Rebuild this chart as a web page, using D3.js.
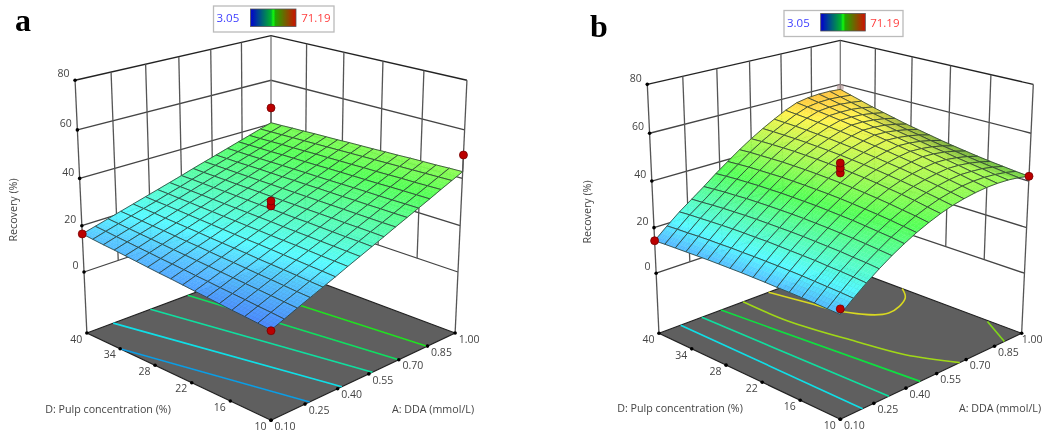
<!DOCTYPE html>
<html>
<head>
<meta charset="utf-8">
<script src="https://cdn.jsdelivr.net/npm/d3@7"></script>
<style>
body { margin: 0; background: #fff; }
text { font-family: "Open Sans", sans-serif; }
</style>
</head>
<body>
<div id="chart"></div>
<script>
const ddaTicks = [0.10, 0.25, 0.40, 0.55, 0.70, 0.85, 1.00];
const pulpTicks = [10, 16, 22, 28, 34, 40];
const recoveryTicks = [0, 20, 40, 60, 80];
const legendMin = "3.05";
const legendMax = "71.19";

// rows go D = 10 -> 40, columns go A = 0.10 -> 1.00
const surfaceA = [
[8.8,10.9,13.1,15.2,17.3,19.4,21.6,23.7,25.8,27.9,30.1,32.2,34.3,36.4,38.6,40.7,42.8],
[9.3,11.4,13.5,15.5,17.6,19.7,21.8,23.9,26.0,28.1,30.1,32.2,34.3,36.4,38.5,40.6,42.7],
[9.8,11.8,13.9,15.9,18.0,20.0,22.0,24.1,26.1,28.2,30.2,32.3,34.3,36.4,38.4,40.5,42.5],
[10.2,12.3,14.3,16.3,18.3,20.3,22.3,24.3,26.3,28.3,30.3,32.3,34.3,36.4,38.4,40.4,42.4],
[10.7,12.7,14.7,16.6,18.6,20.6,22.6,24.5,26.5,28.5,30.4,32.4,34.4,36.3,38.3,40.3,42.3],
[11.2,13.1,15.1,17.0,18.9,20.9,22.8,24.7,26.7,28.6,30.5,32.4,34.4,36.3,38.2,40.2,42.1],
[11.7,13.6,15.5,17.4,19.3,21.2,23.0,24.9,26.8,28.7,30.6,32.5,34.4,36.3,38.2,40.1,42.0],
[12.2,14.0,15.9,17.7,19.6,21.4,23.3,25.2,27.0,28.9,30.7,32.6,34.4,36.3,38.1,40.0,41.8],
[12.7,14.5,16.3,18.1,19.9,21.7,23.5,25.4,27.2,29.0,30.8,32.6,34.4,36.3,38.1,39.9,41.7],
[13.1,14.9,16.7,18.5,20.2,22.0,23.8,25.6,27.3,29.1,30.9,32.7,34.5,36.2,38.0,39.8,41.6],
[13.6,15.3,17.1,18.8,20.6,22.3,24.0,25.8,27.5,29.3,31.0,32.7,34.5,36.2,38.0,39.7,41.4],
[14.1,15.8,17.5,19.2,20.9,22.6,24.3,26.0,27.7,29.4,31.1,32.8,34.5,36.2,37.9,39.6,41.3],
[14.6,16.2,17.9,19.6,21.2,22.9,24.5,26.2,27.9,29.5,31.2,32.9,34.5,36.2,37.8,39.5,41.2],
[15.1,16.7,18.3,19.9,21.5,23.2,24.8,26.4,28.0,29.7,31.3,32.9,34.5,36.1,37.8,39.4,41.0],
[15.5,17.1,18.7,20.3,21.9,23.5,25.0,26.6,28.2,29.8,31.4,32.9,34.5,36.1,37.7,39.3,40.9],
[16.0,17.6,19.1,20.7,22.2,23.7,25.3,26.8,28.4,29.9,31.5,33.0,34.6,36.1,37.6,39.2,40.7],
[16.5,18.0,19.5,21.0,22.5,24.0,25.5,27.0,28.5,30.1,31.6,33.1,34.6,36.1,37.6,39.1,40.6]
];
const surfaceB = [
[15.0,19.3,23.3,26.9,30.2,33.1,35.7,37.9,39.8,41.3,42.4,43.2,43.7,43.8,43.6,43.0,42.0],
[15.2,19.6,23.7,27.4,30.7,33.8,36.4,38.8,40.7,42.3,43.4,44.3,44.7,44.7,44.3,43.6,42.5],
[15.4,19.8,24.0,27.7,31.2,34.3,37.1,39.5,41.7,43.2,44.4,45.3,45.8,45.6,45.2,44.3,43.1],
[15.5,20.0,24.2,28.1,31.6,34.8,37.7,40.3,42.5,44.1,45.3,46.2,46.8,46.6,46.0,45.0,43.7],
[15.6,20.2,24.5,28.3,31.9,35.3,38.2,40.9,43.2,44.9,46.2,47.1,47.7,47.5,46.8,45.8,44.4],
[15.6,20.3,24.6,28.5,32.2,35.6,38.7,41.5,43.9,45.6,47.0,48.0,48.7,48.4,47.7,46.6,45.2],
[15.7,20.4,24.7,28.7,32.4,35.9,39.1,42.0,44.5,46.3,47.7,48.8,49.5,49.2,48.5,47.4,46.0],
[15.7,20.4,24.8,28.8,32.6,36.2,39.4,42.4,45.0,46.9,48.4,49.6,50.4,50.1,49.4,48.3,46.9],
[15.7,20.4,24.9,28.8,32.7,36.3,39.6,42.7,45.5,47.4,49.0,50.3,51.3,51.0,50.3,49.3,47.9],
[15.6,20.3,24.8,28.8,32.7,36.4,39.8,43.0,45.8,47.9,49.6,51.0,52.1,51.9,51.2,50.2,48.9],
[15.5,20.3,24.8,28.8,32.7,36.5,39.9,43.2,46.1,48.3,50.1,51.7,52.8,52.7,52.2,51.2,49.9],
[15.4,20.1,24.7,28.7,32.6,36.4,40.0,43.3,46.3,48.6,50.6,52.3,53.6,53.6,53.1,52.3,51.1],
[15.2,20.0,24.5,28.5,32.5,36.4,39.9,43.4,46.5,48.9,51.0,52.9,54.3,54.4,54.1,53.3,52.3],
[15.0,19.8,24.3,28.3,32.2,36.2,39.8,43.3,46.5,49.1,51.4,53.4,55.0,55.2,55.1,54.5,53.5],
[14.8,19.5,24.0,28.0,32.0,36.0,39.7,43.2,46.5,49.2,51.7,53.9,55.6,56.1,56.1,55.6,54.9],
[14.6,19.3,23.8,27.6,31.6,35.7,39.4,43.1,46.4,49.3,51.9,54.3,56.2,56.9,57.1,56.8,56.3],
[14.3,19.0,23.4,27.3,31.2,35.3,39.1,42.8,46.2,49.3,52.1,54.7,56.8,57.7,58.1,58.1,57.7]
];

// floor contours as [A, D] points
const contoursA = [
  { color: "#0a9de4", pts: [[0.10, 34], [0.271, 10]] },
  { color: "#10e0e8", pts: [[0.217, 40], [0.42, 10]] },
  { color: "#10e0a0", pts: [[0.388, 40], [0.568, 10]] },
  { color: "#10e060", pts: [[0.568, 40], [0.70, 10]] },
  { color: "#20e020", pts: [[0.757, 40], [0.847, 10]] }
];
const contoursB = [
  { color: "#10e0e8", pts: [[0.198, 40], [0.199, 10]] },
  { color: "#10e0a0", pts: [[0.295, 40], [0.32, 10]] },
  { color: "#10e040", pts: [[0.386, 40], [0.469, 10]] },
  { color: "#a0d818", pts: [[0.493, 40], [0.492, 31.8], [0.54, 22.2], [0.583, 15.7], [0.667, 10]] },
  { color: "#d8d820", pts: [[0.62, 40], [0.657, 34], [0.685, 29.5], [0.798, 25], [0.942, 26.7], [1.0, 29]] },
  { color: "#80d818", pts: [[0.994, 15], [0.904, 10]] }
];

// design points [A, D, recovery]
const pointsA = [[1, 40, 47.4], [1, 10, 49.7], [0.1, 40, 16.5], [0.1, 10, 8.5], [0.55, 25, 28.4], [0.55, 25, 30.5]];
const pointsB = [[1, 10, 42], [0.1, 40, 14.3], [0.1, 10, 17.2], [0.55, 25, 43.4], [0.55, 25, 45.5], [0.55, 25, 47.6]];
const hiddenB = [[1, 40, 58.6]];

const floorZ = -27.08;

const uScale = d3.scaleLinear().domain([0.1, 1]).range([0, 1]);
const vScale = d3.scaleLinear().domain([10, 40]).range([0, 1]);
const tScale = d3.scaleLinear().domain([0, 80]).range([0, 1]);

const colorScale = d3.scaleLinear()
  .domain([3.05, 9, 16.5, 21, 37, 48, 54, 58, 71.19])
  .range(["#3c60ff", "#4d88ff", "#55c8ff", "#55fbff", "#55ff55", "#c0f850", "#fff44c", "#ffc43c", "#ff3030"]);

const svg = d3.select("#chart").append("svg")
  .attr("width", 1044)
  .attr("height", 436)
  .style("display", "block");

const defs = svg.append("defs");
defs.append("filter").attr("id", "soft")
  .append("feGaussianBlur").attr("stdDeviation", 0.4);

const grad = defs.append("linearGradient").attr("id", "bar");
[[0, "#0000d0"], [0.45, "#00b030"], [0.5, "#10f810"], [0.55, "#20a800"], [1, "#d01000"]].forEach(s => {
  grad.append("stop").attr("offset", s[0]).attr("stop-color", s[1]);
});

const root = svg.append("g").attr("filter", "url(#soft)");

function drawPanel(p) {
  const g = root.append("g");

  // camera fitted to the box corners
  const project = (A, D, z) => {
    const u = uScale(A), v = vScale(D), t = tScale(z);
    const w = 1 + 0.136 * (u + v) - 0.052 * t;
    return [
      p.cx + p.scale * 212.4 * (u - v) / w,
      p.oy + p.scale * (352.5 - 43.5 * (u + v) - 222 * t) / w
    ];
  };
  const line = d3.line();
  const path3 = (pts, color, width) => g.append("path")
    .attr("d", line(pts.map(d => project(d[0], d[1], d[2]))))
    .attr("fill", "none")
    .attr("stroke", color)
    .attr("stroke-width", width);

  // floor
  const floor = [[0.1, 10, floorZ], [1, 10, floorZ], [1, 40, floorZ], [0.1, 40, floorZ], [0.1, 10, floorZ]];
  path3(floor, "#222", 1.2).attr("fill", "#5f5f5f");

  p.contours.forEach(c => {
    g.append("path")
      .attr("d", d3.line().curve(d3.curveCatmullRom)(c.pts.map(d => project(d[0], d[1], floorZ))))
      .attr("fill", "none")
      .attr("stroke", c.color)
      .attr("stroke-width", 1.6);
  });

  // walls
  recoveryTicks.forEach(z => {
    const col = z === 80 ? "#222" : "#444";
    path3([[0.1, 40, z], [1, 40, z], [1, 10, z]], col, 1.3);
  });
  ddaTicks.slice(1, -1).forEach(a => path3([[a, 40, 0], [a, 40, 80]], "#555", 1.3));
  pulpTicks.slice(1, -1).forEach(d => path3([[1, d, 0], [1, d, 80]], "#555", 1.3));
  path3([[1, 40, 0], [1, 40, 80]], "#777", 1.3);
  path3([[0.1, 40, floorZ], [0.1, 40, 80]], "#555", 1.3);
  path3([[1, 10, floorZ], [1, 10, 80]], "#555", 1.3);

  // a point that sits behind the surface crest
  (p.hidden || []).forEach(d => {
    const xy = project(d[0], d[1], d[2]);
    g.append("circle").attr("cx", xy[0]).attr("cy", xy[1]).attr("r", 3.5)
      .attr("fill", "#b09090").attr("opacity", 0.6);
  });

  // surface, back cells first
  const table = p.surface;
  const cells = table.length - 1;
  const stepA = (ddaTicks[6] - ddaTicks[0]) / cells;
  const stepD = (pulpTicks[5] - pulpTicks[0]) / cells;
  const sub = 4;

  // how far the surface falls towards high A at one table node, for the darker right flank
  const nodeDrop = (j, i) => {
    const lo = Math.max(i - 1, 0), hi = Math.min(i + 1, cells);
    return (table[j][lo] - table[j][hi]) / (hi - lo);
  };
  const blend = (q00, q10, q11, q01, s, r) =>
    (q00 * (1 - s) + q10 * s) * (1 - r) + (q01 * (1 - s) + q11 * s) * r;

  for (let j = cells - 1; j >= 0; j--) {
    for (let i = cells - 1; i >= 0; i--) {
      const z00 = table[j][i], z10 = table[j][i + 1], z11 = table[j + 1][i + 1], z01 = table[j + 1][i];
      const d00 = nodeDrop(j, i), d10 = nodeDrop(j, i + 1), d11 = nodeDrop(j + 1, i + 1), d01 = nodeDrop(j + 1, i);
      const a0 = 0.1 + i * stepA, d0 = 10 + j * stepD;
      const at = (s, r) => project(a0 + s * stepA, d0 + r * stepD, blend(z00, z10, z11, z01, s, r));

      // smooth colour inside the cell
      for (let r = sub - 1; r >= 0; r--) {
        for (let s = sub - 1; s >= 0; s--) {
          const s0 = s / sub, s1 = (s + 1) / sub, r0 = r / sub, r1 = (r + 1) / sub;
          const zm = blend(z00, z10, z11, z01, (s0 + s1) / 2, (r0 + r1) / 2);
          const dm = blend(d00, d10, d11, d01, (s0 + s1) / 2, (r0 + r1) / 2);
          const col = d3.interpolateRgb(colorScale(zm), "#000")(Math.max(0, dm - 0.45) * 0.3);
          g.append("path")
            .attr("d", line([at(s0, r0), at(s1, r0), at(s1, r1), at(s0, r1)]) + "Z")
            .attr("fill", col)
            .attr("stroke", col)
            .attr("stroke-width", 0.4);
        }
      }
      g.append("path")
        .attr("d", line([at(0, 0), at(1, 0), at(1, 1), at(0, 1)]) + "Z")
        .attr("fill", "none")
        .attr("stroke", "#2a3a32")
        .attr("stroke-width", 0.8)
        .attr("stroke-linejoin", "round");
    }
  }

  // stems from the corner points down to the surface
  p.points.forEach(d => {
    if (d[0] === 0.55) return;
    const i = Math.round(uScale(d[0]) * cells), j = Math.round(vScale(d[1]) * cells);
    if (d[2] > table[j][i]) path3([[d[0], d[1], d[2]], [d[0], d[1], table[j][i]]], "#555", 1.2);
  });
  p.points.forEach(d => {
    const xy = project(d[0], d[1], d[2]);
    g.append("circle").attr("cx", xy[0]).attr("cy", xy[1]).attr("r", 4)
      .attr("fill", "#bb0000").attr("stroke", "#700").attr("stroke-width", 0.8);
  });

  // axis ticks and labels
  const tick = (xy) => g.append("circle").attr("cx", xy[0]).attr("cy", xy[1]).attr("r", 1.8).attr("fill", "#000");
  const label = (x, y, txt, anchor) => g.append("text")
    .attr("x", x).attr("y", y).attr("text-anchor", anchor || "middle")
    .attr("dy", "0.35em").attr("font-size", 10.5).attr("fill", "#444").text(txt);

  recoveryTicks.forEach(z => {
    const xy = project(0.1, 40, z);
    tick(xy);
    label(xy[0] - 5.5, xy[1] - 6.5, z, "end");
  });
  pulpTicks.forEach(d => {
    const xy = project(0.1, d, floorZ);
    tick(xy);
    label(xy[0] - 10.5, xy[1] + 6, d);
  });
  ddaTicks.forEach(a => {
    const xy = project(a, 10, floorZ);
    tick(xy);
    // the right panel's last label would run off the page
    const shift = (a === 1 && p.name === "b") ? 10.5 : 14;
    label(xy[0] + shift, xy[1] + 6, a.toFixed(2));
  });

  // titles
  label(p.titleD[0], p.titleD[1], "D: Pulp concentration (%)").attr("font-size", 10.7);
  label(p.titleA[0], p.titleA[1], "A: DDA (mmol/L)").attr("font-size", 10.7);
  g.append("text")
    .attr("transform", `translate(${p.titleR[0]},${p.titleR[1]}) rotate(-90)`)
    .attr("text-anchor", "middle").attr("dy", "0.35em")
    .attr("font-size", 10.7).attr("fill", "#444").text("Recovery (%)");

  // panel letter
  g.append("text").attr("x", p.letter[0]).attr("y", p.letter[1])
    .style("font-family", "'Liberation Serif', serif").style("font-weight", "bold")
    .attr("font-size", 32).attr("fill", "#000").text(p.name);

  // colour legend
  const b = p.legend;
  g.append("rect").attr("x", b.x).attr("y", b.y).attr("width", b.w).attr("height", 26)
    .attr("fill", "#fff").attr("stroke", "#bbb").attr("stroke-width", 1.3);
  g.append("rect").attr("x", b.barX).attr("y", b.y + 3).attr("width", b.barW).attr("height", 17.5)
    .attr("fill", "url(#bar)").attr("stroke", "#555").attr("stroke-width", 0.8);
  g.append("text").attr("x", b.x + 3).attr("y", b.y + 12).attr("dy", "0.35em")
    .attr("font-size", 11.5).attr("fill", "#4040ff").text(legendMin);
  g.append("text").attr("x", b.x + b.w - 3.5).attr("y", b.y + 12).attr("dy", "0.35em")
    .attr("text-anchor", "end").attr("font-size", 11.5).attr("fill", "#ff4040").text(legendMax);
}

drawPanel({
  name: "a", cx: 271, oy: 0, scale: 1,
  surface: surfaceA, contours: contoursA, points: pointsA,
  titleD: [108, 409], titleA: [433, 409], titleR: [13, 210],
  letter: [15, 31],
  legend: { x: 213.5, y: 6, w: 120.5, barX: 250.5, barW: 45.5 }
});
drawPanel({
  name: "b", cx: 840.3, oy: 5.3, scale: 0.985,
  surface: surfaceB, contours: contoursB, points: pointsB, hidden: hiddenB,
  titleD: [680, 408], titleA: [1000, 408], titleR: [587, 212],
  letter: [590, 37],
  legend: { x: 784, y: 10.5, w: 119, barX: 820.7, barW: 44.6 }
});
</script>
</body>
</html>
